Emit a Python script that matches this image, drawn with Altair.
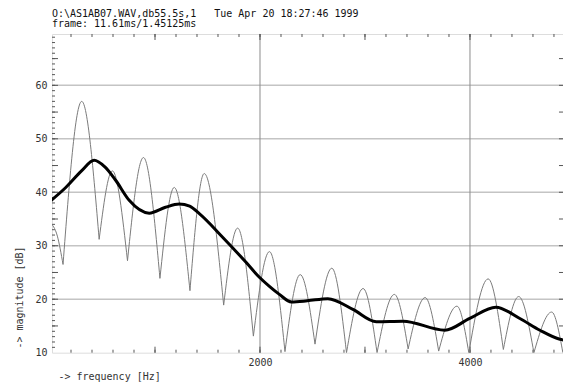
import altair as alt
import pandas as pd

# ---- data ----
# thin line: harmonic magnitude spectrum (dB). first points, then alternating trough / peak
start_hz = [0, 70]
start_db = [34.3, 31.8]
ext_hz = [124, 302, 468, 594, 738, 890, 1047, 1183, 1333, 1469, 1654, 1787, 1937, 2090,
          2238, 2383, 2524, 2684, 2824, 2982, 3115, 3280, 3411, 3573, 3702, 3876, 3989,
          4173, 4318, 4464, 4609, 4778, 4885]
ext_db = [26.5, 57.0, 31.2, 44.0, 27.2, 46.5, 23.9, 40.9, 21.6, 43.5, 18.9, 33.3, 13.1, 28.9,
          10.2, 24.6, 11.6, 25.8, 10.0, 22.0, 10.0, 20.9, 10.7, 20.3, 10.3, 18.7, 10.0,
          23.8, 10.6, 20.5, 10.0, 17.6, 10.0]

# thick line: smoothed spectral envelope (dB)
env_hz = [0, 150, 300, 420, 520, 627, 754, 945, 1100, 1231, 1330, 1422, 1644, 1867, 1994,
          2090, 2185, 2300, 2450, 2646, 2885, 3108, 3362, 3760, 3998, 4246, 4475, 4666, 4857, 4950]
env_db = [38.3, 40.9, 44.0, 46.0, 44.8, 42.2, 38.5, 36.1, 37.2, 37.8, 37.4, 36.0, 31.6, 26.9, 24.1,
          22.4, 20.9, 19.5, 19.7, 20.1, 18.1, 15.8, 15.9, 14.2, 16.4, 18.5, 16.4, 14.2, 12.5, 12.2]

y_labels = [10, 20, 30, 40, 50, 60]
h_grid = [20, 30, 40, 50, 60]
x_labels = [2000, 4000]
y_ticks_minor = list(range(11, 70))
y_ticks_major = [15, 20, 25, 30, 35, 40, 45, 50, 55, 60, 65]
x_ticks_minor = list(range(200, 4900, 200))
x_ticks_major = [1000, 2000, 3000, 4000]

title_1 = "O:\\AS1AB07.WAV,db55.5s,1\u00a0\u00a0\u00a0Tue Apr 20 18:27:46 1999"
title_2 = "frame: 11.61ms/1.45125ms"

# ---- build tables ----
rows = []
rows += [{"seg": 0, "hz": h, "db": d} for h, d in zip(start_hz + [ext_hz[0]], start_db + [ext_db[0]])]
seg = 1
for i in range(1, len(ext_hz) - 1, 2):
    for j in (i - 1, i, i + 1):
        rows.append({"seg": seg, "hz": ext_hz[j], "db": ext_db[j]})
    seg += 1
thin = pd.DataFrame(rows)
env = pd.DataFrame({"hz": env_hz, "db": env_db})

W = 511
H = 318.7
FONT = "DejaVu Sans Mono"

xs = alt.Scale(domain=[19, 4886], nice=False, zero=False)
ys = alt.Scale(domain=[10, 69.6], nice=False, zero=False)

xaxis = alt.Axis(values=x_labels, format="d", grid=False, ticks=False, domain=False, tickSize=0,
                 labelFont=FONT, labelFontSize=10, labelColor="#333", labelPadding=5,
                 title="-> frequency [Hz]", titleFont=FONT, titleFontSize=10,
                 titleFontWeight="normal", titleColor="#333", titleX=6, titleY=24,
                 titleAlign="left", titleBaseline="middle")
yaxis = alt.Axis(values=y_labels, format="d", grid=False, ticks=False, domain=False, tickSize=0,
                 labelFont=FONT, labelFontSize=10, labelColor="#333", labelPadding=5,
                 title="-> magnitude [dB]", titleFont=FONT, titleFontSize=10,
                 titleFontWeight="normal", titleColor="#333", titleAngle=270,
                 titleX=-33, titleY=263, titleAlign="center", titleBaseline="middle")


def X(field="hz"):
    return alt.X(f"{field}:Q", scale=xs, axis=xaxis)


def Y(field="db"):
    return alt.Y(f"{field}:Q", scale=ys, axis=yaxis)


hgrid = alt.Chart(pd.DataFrame({"db": h_grid})).mark_rule(
    color="#c4c4c4", strokeWidth=1.5).encode(y=Y())
vgrid = alt.Chart(pd.DataFrame({"hz": x_labels})).mark_rule(
    color="#8c8c8c", strokeWidth=1).encode(x=X())

tick_col = "#555"
lt_minor = alt.Chart(pd.DataFrame({"db": y_ticks_minor})).mark_rule(color=tick_col, strokeWidth=1).encode(
    y=Y(), x=alt.value(0), x2=alt.value(3))
lt_major = alt.Chart(pd.DataFrame({"db": y_ticks_major})).mark_rule(color=tick_col, strokeWidth=1).encode(
    y=Y(), x=alt.value(0), x2=alt.value(6))
rt_major = alt.Chart(pd.DataFrame({"db": y_ticks_major})).mark_rule(color=tick_col, strokeWidth=1).encode(
    y=Y(), x=alt.value(W), x2=alt.value(W - 4))
bt_minor = alt.Chart(pd.DataFrame({"hz": x_ticks_minor})).mark_rule(color=tick_col, strokeWidth=1).encode(
    x=X(), y=alt.value(H), y2=alt.value(H - 3))
bt_major = alt.Chart(pd.DataFrame({"hz": x_ticks_major})).mark_rule(color=tick_col, strokeWidth=1).encode(
    x=X(), y=alt.value(H), y2=alt.value(H - 6))
tt_minor = alt.Chart(pd.DataFrame({"hz": x_ticks_minor})).mark_rule(color=tick_col, strokeWidth=1).encode(
    x=X(), y=alt.value(0), y2=alt.value(3))
tt_major = alt.Chart(pd.DataFrame({"hz": x_ticks_major})).mark_rule(color=tick_col, strokeWidth=1).encode(
    x=X(), y=alt.value(0), y2=alt.value(6))

thin_line = alt.Chart(thin).mark_line(color="#7a7a7a", strokeWidth=1, interpolate="monotone", clip=True).encode(
    x=X(), y=Y(), detail="seg:N", order="hz:Q")
env_line = alt.Chart(env).mark_line(color="#000000", strokeWidth=3, interpolate="monotone", clip=True).encode(
    x=X(), y=Y(), order="hz:Q")

chart = alt.layer(
    hgrid, vgrid, lt_minor, lt_major, rt_major, bt_minor, bt_major, tt_minor, tt_major,
    thin_line, env_line
).properties(
    width=W, height=H,
    autosize=alt.AutoSizeParams(type="none"),
    padding={"left": 44, "top": 26, "right": 0, "bottom": 30},
    title=alt.TitleParams(text=title_1, subtitle=title_2, anchor="start", frame="group",
                          font=FONT, fontSize=10, fontWeight="normal", color="#111",
                          subtitleFont=FONT, subtitleFontSize=10, subtitleColor="#111",
                          subtitlePadding=0, offset=4)
).configure_view(stroke="#808080", strokeWidth=2).configure(background="white")

chart.save("out.html", embed_options={"renderer": "svg", "actions": False})
